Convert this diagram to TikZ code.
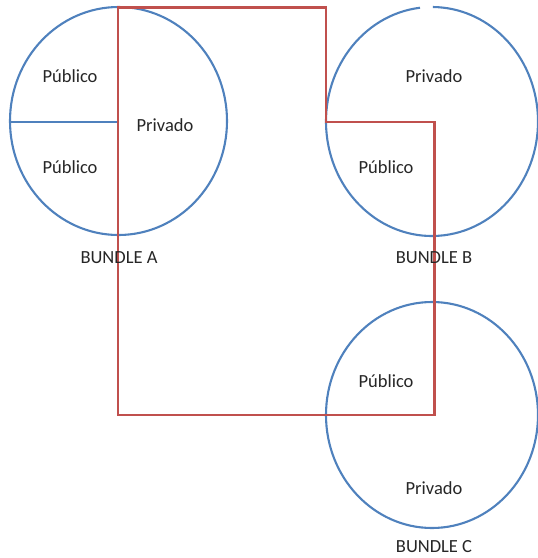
\documentclass[tikz,border=0pt]{standalone}
\usepackage{fontspec}
\setmainfont{Carlito}
\definecolor{ringblue}{RGB}{79,129,189}
\definecolor{pathred}{RGB}{192,80,77}
\definecolor{labelgray}{RGB}{38,38,38}
\begin{document}
\begin{tikzpicture}[x=1pt,y=-1pt,
  ring/.style={draw=ringblue,line width=2.1pt},
  route/.style={draw=pathred,line width=2.1pt,line join=miter},
  lbl/.style={font=\fontsize{18.5}{20}\selectfont,text=labelgray,inner sep=0pt}]
\useasboundingbox (0,0) rectangle (538,558);

% bundle rings
\coordinate (ca) at (118.5,121);
\coordinate (cb) at (432,121.5);
\coordinate (cc) at (432,415);
\draw[ring] (ca) ellipse [x radius=108.5, y radius=114];
\draw[ring] (cb) ++(96.5:106 and -114.5) arc [start angle=96.5, end angle=449.5, x radius=106, y radius=-114.5];
\draw[ring] (cc) ellipse [x radius=106, y radius=113];

% divider of bundle A
\coordinate (da) at (10,122);
\coordinate (db) at (118,122);
\draw[ring] (da) -- (db);

% red boundary
\coordinate (r1) at (118,7.5);
\coordinate (r2) at (326,7.5);
\coordinate (r3) at (326,122);
\coordinate (r4) at (434.5,122);
\coordinate (r5) at (434.5,415);
\coordinate (r6) at (118,415);
\draw[route] (r1) -- (r2) -- (r3) -- (r4) -- (r5) -- (r6) -- cycle;

% labels
\node[lbl] (a1) at (70,76) {Público};
\node[lbl] (a2) at (70,167) {Público};
\node[lbl] (a3) at (165,125) {Privado};
\node[lbl] (b1) at (434,76) {Privado};
\node[lbl] (b2) at (386,167) {Público};
\node[lbl] (c1) at (386,381) {Público};
\node[lbl] (c2) at (434,488) {Privado};
\node[lbl] (na) at (119,258) {BUNDLE A};
\node[lbl] (nb) at (434,258) {BUNDLE B};
\node[lbl] (nc) at (434,547) {BUNDLE C};
\end{tikzpicture}
\end{document}
